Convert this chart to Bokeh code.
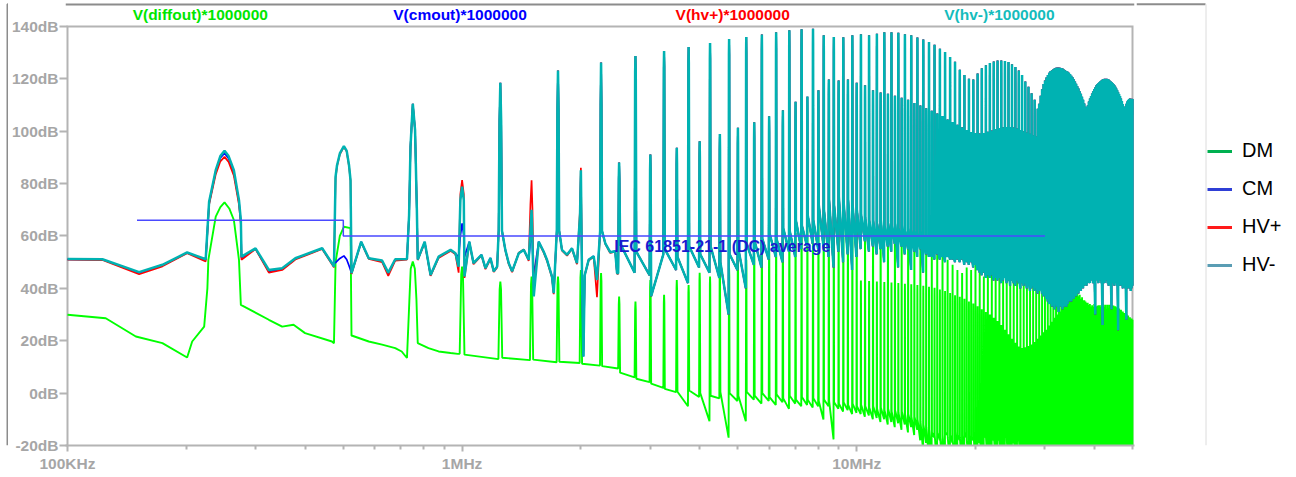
import numpy as np
from bokeh.plotting import figure
from bokeh.layouts import column, row
from bokeh.models import Label, Legend, LegendItem, FixedTicker, CustomJSTickFormatter, Range1d
from bokeh.embed import file_html
from bokeh.resources import INLINE

# ---------------- data (frequencies in MHz, levels in dB) ----------------
F_STEP = 0.25          # switching-harmonic spacing

HV_LOW_F = [0.1000, 0.1226, 0.1519, 0.1740, 0.2010, 0.2240, 0.2262, 0.2285, 0.2375, 0.2440,
            0.2500, 0.2560, 0.2640, 0.2720, 0.2750, 0.2760, 0.2996, 0.3238, 0.3500, 0.3780,
            0.4420, 0.4680, 0.4735, 0.4779, 0.4820, 0.4900, 0.5017, 0.5100, 0.5170, 0.5215,
            0.5245, 0.5550, 0.5800, 0.6270, 0.6500, 0.6770, 0.7250, 0.7340, 0.7400, 0.7500,
            0.7600, 0.7680, 0.7720, 0.8040, 0.8320, 0.8720, 0.9350, 0.9620, 0.9800, 0.9900,
            1.0000, 1.0100, 1.0140, 1.0430, 1.0690, 1.1200, 1.1460, 1.1800, 1.2030, 1.2270,
            1.2380, 1.2440, 1.2500, 1.2560, 1.2620, 1.2870, 1.3130, 1.3390, 1.3920, 1.4330,
            1.4750, 1.4900, 1.5000, 1.5080, 1.5190, 1.5640, 1.6100, 1.6410, 1.6900, 1.7070,
            1.7380, 1.7440, 1.7500, 1.7560, 1.7620, 1.7910, 1.8450, 1.8990, 1.9550, 1.9900,
            2.0000, 2.0080, 2.0150, 2.0300, 2.0450, 2.0930, 2.1550, 2.1970, 2.2380, 2.2440,
            2.2500, 2.2560, 2.2620, 2.3060, 2.3730, 2.4440, 2.4700]
HVM_LOW_DB = [51.2, 51.1, 46.2, 49.0, 53.7, 51.1, 62.0, 73.1, 85.1, 90.5,
              92.5, 90.5, 85.1, 73.7, 66.0, 52.1, 55.3, 47.0, 47.7, 51.5,
              55.3, 49.6, 48.3, 82.6, 87.0, 91.5, 94.3, 92.5, 87.0, 81.3,
              45.8, 57.8, 51.5, 50.6, 46.0, 51.1, 51.2, 68.0, 94.0, 110.5,
              100.4, 70.0, 51.0, 57.8, 45.1, 52.1, 54.7, 53.4, 48.3, 73.7,
              78.8, 73.7, 44.5, 57.8, 49.6, 52.8, 47.7, 51.6, 46.5, 48.3,
              62.0, 104.0, 118.5, 104.0, 62.0, 54.7, 49.6, 46.5, 53.4, 54.7,
              50.9, 62.0, 70.0, 58.0, 36.9, 57.8, 54.0, 50.9, 44.5, 38.2,
              62.0, 108.0, 123.2, 108.0, 62.0, 54.7, 52.8, 55.3, 49.6, 68.0,
              85.1, 60.0, 40.0, 14.0, 45.0, 50.9, 52.3, 43.2, 62.0, 110.0,
              126.2, 110.0, 62.0, 57.2, 53.8, 54.2, 45.8]
HVP_LOW_DB = [51.0, 50.8, 45.4, 48.4, 53.4, 50.3, 61.0, 72.0, 83.5, 88.5,
              90.2, 88.3, 83.0, 72.0, 64.5, 50.9, 55.0, 46.0, 47.0, 51.0,
              55.0, 49.2, 48.0, 82.0, 86.6, 91.2, 94.0, 92.2, 86.6, 81.0,
              45.5, 57.6, 51.2, 50.0, 44.8, 50.6, 51.0, 68.0, 94.0, 110.5,
              100.4, 70.0, 50.8, 57.4, 44.8, 51.6, 54.3, 53.0, 46.0, 76.0,
              81.3, 76.0, 44.0, 57.5, 49.2, 52.6, 47.3, 51.2, 46.2, 48.0,
              62.0, 104.0, 118.5, 104.0, 62.0, 54.4, 49.2, 46.2, 53.6, 54.9,
              50.5, 72.0, 81.3, 70.0, 40.0, 57.5, 53.6, 50.5, 44.0, 37.8,
              62.0, 108.0, 123.2, 108.0, 62.0, 54.4, 52.5, 55.0, 49.2, 70.0,
              86.0, 62.0, 42.0, 16.0, 45.0, 50.6, 52.0, 36.6, 62.0, 110.0,
              126.2, 110.0, 62.0, 57.0, 53.5, 54.0, 45.5]
CM_LOW_DB = [51.1, 51.0, 45.9, 48.8, 53.6, 50.8, 61.5, 72.6, 84.6, 89.8,
             91.6, 89.6, 84.2, 73.0, 65.4, 51.6, 55.1, 46.5, 47.3, 51.3,
             55.2, 49.6, 49.6, 49.8, 50.4, 51.4, 52.4, 51.0, 48.6, 47.0,
             45.8, 57.8, 51.5, 50.4, 45.6, 51.0, 51.2, 68.0, 94.0, 110.5,
             100.4, 70.0, 51.0, 57.7, 45.0, 52.0, 54.6, 53.3, 52.0, 60.0,
             64.8, 60.0, 52.0, 57.8, 49.6, 52.8, 47.7, 51.6, 46.5, 48.3,
             62.0, 104.0, 118.5, 104.0, 62.0, 54.7, 49.6, 46.5, 53.4, 54.7,
             50.9, 58.0, 66.0, 55.0, 45.0, 57.8, 54.0, 50.9, 44.5, 38.2,
             62.0, 108.0, 123.2, 108.0, 62.0, 54.7, 52.8, 55.3, 49.6, 66.0,
             84.0, 58.0, 40.0, 14.0, 45.0, 50.9, 52.3, 43.2, 62.0, 110.0,
             126.2, 110.0, 62.0, 57.2, 53.8, 54.2, 45.8]

HV_N0 = 10   # first harmonic (x 250 kHz) listed below, up to n = 200
HV_PEAK_DB = [88.0, 128.7, 91.1, 130.6, 93.7, 132.1, 96.2, 133.7, 98.9, 135.2,
              101.3, 136.0, 103.4, 136.9, 105.7, 137.8, 108.0, 138.5, 111.2, 138.9,
              113.2, 139.1, 115.6, 136.6, 119.7, 136.0, 119.4, 135.9, 119.7, 136.6,
              118.5,
              137.0, 117.5, 136.6, 115.6, 137.2, 114.8, 137.8, 114.3, 137.8, 113.5,
              137.6, 112.8, 137.0, 112.0, 136.6, 110.8, 135.8, 109.8, 135.0, 108.8,
              134.1, 107.8, 133.0, 106.8, 131.5, 105.8, 130.2, 104.5, 128.3, 103.5,
              126.5, 102.5, 123.5, 101.5, 121.5, 100.5, 120.0, 99.7, 119.7, 99.3,
              122.0, 99.1, 124.0, 99.3, 125.2, 99.8, 126.0, 100.3, 126.6, 100.8,
              127.0, 101.2, 127.0, 101.5, 126.8, 101.6, 126.4, 101.6, 125.6, 101.4,
              124.5, 101.0, 123.2, 100.5, 121.5, 100.0, 119.0, 99.5, 117.0, 99.0,
              114.5, 98.5, 112.0, 98.0, 108.6,
              110.5, 113.5, 116.0, 118.0, 119.4, 120.5, 121.5, 122.3, 123.0, 123.3,
              123.7, 124.0, 124.2, 124.3, 124.3, 124.2, 124.1, 123.9, 123.6, 123.3,
              123.0, 122.7, 122.3, 121.8, 121.2, 120.6, 119.8, 119.0, 118.1, 117.2,
              116.3, 115.3, 114.3, 113.2, 112.0, 110.6, 109.3, 108.6, 109.8, 111.3,
              112.5, 113.4, 114.4, 115.3, 116.1, 116.8, 117.5, 118.0, 118.4, 118.8,
              119.2, 119.5, 119.7, 119.9, 120.0, 120.0, 120.0, 119.9, 119.7, 119.4,
              119.1, 118.8, 118.4, 118.0, 117.5, 117.0, 116.3, 115.6, 114.9, 114.2,
              113.4, 112.5, 111.5, 110.4, 109.2, 108.6, 109.5, 110.5, 111.3, 111.9,
              112.3, 112.5, 112.4, 112.4, 112.3]
HV_FLOOR_A = [57.2, 54, 37, 55, 52, 56, 53, 56, 50, 53,
              55, 57, 58, 59, 61, 59, 63, 62, 66, 64,
              68, 66, 72, 70, 74, 72, 75, 73, 74, 72,
              70, 68, 67, 66, 66, 65, 66, 64, 65, 64,
              65, 63, 64, 62, 63, 62, 62, 61, 62, 60,
              60,
              58, 57, 58, 56, 57, 56, 57, 56, 57, 55, 56, 55, 56, 54, 55, 54, 55, 53, 54,
              52, 51, 52, 50, 51, 50, 51, 49, 50, 49, 50, 48, 49, 48, 49, 47, 48, 47, 48, 46,
              47, 46, 47, 45, 46, 45, 46, 45, 46, 44, 45, 44, 45, 44, 45, 43, 44, 43, 44, 42,
              42, 41, 42, 40, 41, 40, 41, 40, 41, 40, 41, 40, 41, 40, 41, 40, 42, 41, 42, 41,
              43, 42, 43, 42,
              44, 43, 44, 45, 44, 45, 46, 45, 46, 47, 46, 47,
              48, 47, 48, 49, 48, 49, 48, 49, 50, 49, 48, 49, 48, 47, 48, 49, 48, 47, 48, 49,
              48, 47, 48, 47, 46, 47, 48, 47, 46, 47, 46, 45, 46, 47, 46, 45, 46, 45, 44, 45,
              44, 45, 44, 45]
HV_FLOOR_B = [46, 45, 53, 47, 42, 48, 46, 44, 30, 47,
              40, 49, 48, 51, 52, 50, 54, 52, 55, 56,
              57, 55, 56, 52, 48, 54, 50, 53, 47, 52,
              55, 58, 54, 56, 53, 55, 50, 56, 54, 57,
              48, 56, 53, 55, 47, 54, 52, 55, 46, 53,
              52,
              52, 51, 53, 51, 52, 50, 52, 51, 51, 50, 51, 50, 51, 49, 50, 49, 50, 48, 49,
              47, 46, 45, 46, 44, 45, 44, 45, 43, 44, 43, 44, 42, 43, 44, 42, 43, 41, 43, 42,
              41, 43, 42, 40, 42, 41, 42, 40, 41, 39, 40, 41, 39, 40, 38, 39, 40, 38, 37, 38,
              36, 35, 34, 35, 33, 34, 32, 34, 33, 31, 33, 34, 32, 33, 35, 33, 34, 35, 36, 35,
              37, 36, 38, 37,
              39, 38, 40, 39, 41, 40, 41, 42, 41, 42, 43, 42,
              43, 44, 42, 43, 30, 44, 43, 42, 44, 43, 42, 26, 43, 42, 44, 43, 42, 41, 43, 42,
              32, 43, 42, 41, 42, 43, 41, 24, 42, 41, 42, 41, 40, 42, 41, 40, 28, 41, 40, 41,
              40, 39, 40, 41]

DM_LOW_F = [0.100, 0.125, 0.149, 0.174, 0.201, 0.207, 0.222, 0.2262, 0.2275, 0.2375,
            0.2440, 0.2500, 0.2570, 0.2640, 0.2720, 0.2750, 0.3238, 0.3500, 0.3740, 0.4000,
            0.4680, 0.4735, 0.4779, 0.4900, 0.5017, 0.5215, 0.5245, 0.5270, 0.5800, 0.6270,
            0.6770, 0.7030, 0.7250, 0.7350, 0.7410, 0.7500, 0.7590, 0.7660, 0.7720, 0.8220,
            0.8720, 0.9350, 0.9750]
DM_LOW_DB = [29.9, 28.6, 21.6, 19.1, 13.6, 19.7, 25.4, 40.0, 50.9, 67.4,
             71.0, 72.8, 70.5, 66.1, 50.9, 33.7, 28.0, 25.4, 26.1, 22.9,
             19.7, 19.0, 50.0, 60.0, 63.5, 63.0, 21.9, 21.9, 19.7, 18.5,
             17.2, 15.9, 13.4, 35.0, 47.5, 50.2, 47.5, 36.0, 19.1, 17.2,
             15.9, 15.3, 15.0]

DM_N0 = 4    # first harmonic listed below, up to n = 200
DM_PEAK_DB = [48.3, 42.6, 44.5, 44.5, 47.0, 45.8, 36.9, 35.0, 43.2, 37.5,
              43.2, 41.3, 45.9, 44.5, 49.7, 47.7, 50.9, 50.9, 53.5, 53.5,
              56.0, 54.7, 57.8, 61.1, 61.1, 62.3, 63.5, 66.0, 66.0, 68.8,
              69.4, 68.8, 68.0, 67.3, 67.3, 66.5, 66.0,
              43.0, 66.0, 42.8, 65.0, 42.6, 64.2, 42.4, 62.0, 42.2, 61.0,
              42.0, 59.5, 41.8, 58.5, 41.6, 57.0, 41.3, 56.0, 41.0, 54.5,
              40.6, 53.4, 40.2, 54.7, 39.6, 52.0, 39.0, 50.9, 38.2, 49.0,
              37.4, 47.0, 36.8, 45.9, 36.0, 48.0, 35.0, 47.0, 34.2, 49.6,
              33.2, 46.0, 32.0, 44.5, 31.0, 47.0, 30.0, 50.9, 28.8, 49.0,
              27.5, 48.3, 26.0, 50.9, 24.2, 47.0, 22.5, 45.0, 20.8, 46.0,
              19.2, 44.0, 17.8, 43.0, 17.2, 42.0, 17.5, 43.0, 18.0, 41.0,
              18.6, 42.0, 19.5, 40.6, 20.8, 40.0, 22.0, 42.0, 23.2, 40.0,
              24.2, 43.0, 25.8, 41.5, 27.2, 43.0, 28.8, 42.0, 30.0, 41.0,
              31.2, 42.0, 32.6, 41.0, 33.8, 40.5, 35.0, 40.0, 36.0, 39.0,
              36.8, 38.5, 37.6, 38.0, 38.2, 37.0, 37.6, 36.0, 36.6, 35.5,
              35.5, 35.0, 34.5, 34.5, 33.6, 34.0, 33.0, 33.5, 33.0, 34.0,
              33.2, 33.0, 33.4, 33.5, 33.5, 33.0, 33.6, 32.5, 33.7, 33.0,
              33.7, 32.0, 33.7, 32.5, 33.7, 32.0, 33.6, 31.5, 33.5, 32.0,
              33.2, 31.0, 32.8, 31.5, 32.3, 30.5, 31.8, 31.0, 31.2, 30.0,
              30.6, 30.0, 30.2, 29.5, 29.6, 29.0, 29.0, 28.5, 28.5, 28.0]
DM_FLOOR_A = [14.7, 13.5, 12.8, 12.0, 11.2, 10.3, 7.8, 5.5, 3.6, 1.6,
              0.5, 1.0, 0.0, -1.0, 0.5, 0.0, -1.0, 0.5, -1.0, 0.0,
              -1.5, -0.5, -2.0, -1.0, -2.5, -1.5, -2.5, -2.0, -3.0, -2.5,
              -3.0, -3.5, -4.0, -3.5, -4.5, -4.0, -5.0, -4.5, -5.0, -5.5,
              -5.0, -6.0, -5.5, -6.5, -6.0, -7.0, -6.5, -7.5, -7.0, -8.0,
              -8.0, -9.0, -9.0, -10.0, -11.0, -12.0, -13.0,
              -14, -15, -16, -15, -17, -16, -15, -17, -16, -18,
              -15, -16, -17, -16, -15, -18, -16, -17, -15, -16,
              -17, -16, -18, -15, -17, -16, -18, -17, -16, -15,
              -17, -18, -16, -17, -15, -18, -17, -16, -18, -17,
              -16, -18, -17, -19, -16, -18, -17, -19, -18, -16,
              -18, -17, -19, -18, -17, -19, -18, -20, -17, -19,
              -18, -20, -19, -18, -20, -19, -21, -18, -20, -19,
              -21, -23, -22, -24, -21, -22, -23, -21, -24, -22,
              -23, -21, -22, -24, -23, -21, -22, -23, -24, -22,
              -21, -23, -22, -24, -23, -22, -21, -23, -24, -22,
              -23, -22, -21, -24, -23, -22, -24, -21, -23, -22,
              -24, -23, -21, -22, -24, -23, -22, -21, -23, -24,
              -22, -23, -21, -24, -22, -23, -24, -22, -21, -23,
              -22, -24, -23, -21, -22, -24, -23, -22, -21]
DM_FLOOR_B = [13.0, 12.6, 11.8, 11.5, 10.5, 9.4, 6.0, 4.2, 2.0, 0.4,
              -5.0, -1.5, -10.7, -2.0, -17.0, -3.0, -10.7, -2.5, -4.0, -3.0,
              -4.5, -3.5, -6.0, -4.0, -5.0, -4.5, -5.5, -5.0, -10.1, -5.0,
              -17.7, -6.0, -7.0, -6.5, -8.0, -7.5, -8.0, -9.0, -8.5, -10.0,
              -9.5, -11.0, -10.0, -12.0, -11.0, -13.0, -11.5, -14.0, -12.0, -15.0,
              -13.0, -16.0, -14.0, -18.0, -22.0, -19.0, -25.0,
              -27, -17, -28, -18, -26, -29, -16, -27, -19, -28,
              -26, -18, -29, -27, -17, -28, -30, -18, -27, -26,
              -19, -28, -27, -17, -29, -26, -28, -18, -27, -30,
              -18, -27, -29, -26, -17, -28, -27, -30, -19, -26,
              -28, -18, -29, -27, -26, -30, -19, -28, -27, -26,
              -29, -19, -28, -30, -27, -26, -29, -28, -19, -27,
              -30, -28, -27, -29, -26, -30, -28, -27, -29, -30,
              -30, -28, -31, -29, -32, -30, -28, -31, -29, -30,
              -32, -28, -30, -31, -29, -28, -32, -30, -29, -31,
              -28, -30, -32, -29, -31, -30, -28, -29, -32, -30,
              -31, -29, -28, -30, -32, -31, -29, -30, -28, -31,
              -30, -32, -29, -28, -31, -30, -29, -32, -28, -30,
              -31, -29, -30, -28, -32, -31, -30, -29, -28, -30,
              -32, -29, -31, -30, -28, -29, -31, -30, -29]

LIMIT_F = [0.15, 0.5, 0.5, 30.0]
LIMIT_DB = [66, 66, 60, 60]
LIMIT_TEXT = "IEC 61851-21-1 (DC) average"

TRACE_TITLES = ["V(diffout)*1000000", "V(cmout)*1000000", "V(hv+)*1000000", "V(hv-)*1000000"]
TRACE_COLORS = ["#00ff00", "#0000ff", "#ff0000", "#00b2b2"]
TITLE_COLORS = ["#00e600", "#0000ff", "#ff0000", "#14bcbc"]
TITLE_F = [0.217, 0.988, 4.85, 23.0]

LEGEND_NAMES = ["DM", "CM", "HV+", "HV-"]
LEGEND_COLORS = ["#00b050", "#2f3fd6", "#ff1a1a", "#5a9db4"]

X_TICKS = [1e5, 1e6, 1e7]
X_TICK_LABELS = ["100KHz", "1MHz", "10MHz"]
X_MINOR = [k * d for d in (1e5, 1e6) for k in range(2, 10)] + [2e7, 3e7, 4e7, 5e7]
Y_TICKS = list(range(-20, 141, 20))
X_MIN_HZ, X_MAX_HZ = 1e5, 5e7
Y_MIN_DB, Y_MAX_DB = -20, 140

# layout geometry (pixels)
BOX_L, BOX_R, BOX_T, BOX_B = 65, 1132, 26, 446     # plot box in the window
PAD = 2                                           # frame margin around the box (left/right)
EDGE_W, BASE_H, TOTAL_W, BOTTOM_H = 8, 3, 1296, 28
PX_PER_DB = (BOX_B - BOX_T) / (Y_MAX_DB - Y_MIN_DB)
DEC = (X_MAX_HZ / X_MIN_HZ) ** (1.0 / (BOX_R - BOX_L))   # frequency ratio per pixel


def db_at(py):
    return Y_MAX_DB + (BOX_T - py) / PX_PER_DB


# ---------------- build traces ----------------
def build(low_f, low_db, n0, peaks, fa, fb, shoulder):
    xs, ys = list(low_f), list(low_db)
    w, w2 = 0.014, 0.005
    xs.append(n0 * F_STEP - w)
    ys.append(low_db[-1])
    for i, pk in enumerate(peaks):
        f = (n0 + i) * F_STEP
        xs += [f - w2, f, f + w2]
        ys += [pk - shoulder, pk, pk - shoulder]
        if i < len(fa) and i < len(fb):
            xs += [f + w, f + F_STEP - w]
            ys += [fa[i], fb[i]]
    return np.array(xs) * 1e6, np.array(ys)


dm_x, dm_y = build(DM_LOW_F, DM_LOW_DB, DM_N0, DM_PEAK_DB, DM_FLOOR_A, DM_FLOOR_B, 3)
hvm_x, hvm_y = build(HV_LOW_F, HVM_LOW_DB, HV_N0, HV_PEAK_DB, HV_FLOOR_A, HV_FLOOR_B, 6)
hvp_x, hvp_y = build(HV_LOW_F, HVP_LOW_DB, HV_N0, HV_PEAK_DB, HV_FLOOR_A, HV_FLOOR_B, 6)
cm_x, cm_y = build(HV_LOW_F, CM_LOW_DB, HV_N0, HV_PEAK_DB, HV_FLOOR_A, HV_FLOOR_B, 6)


def blank(width, height, xr, yr):
    f = figure(width=width, height=height, x_range=xr, y_range=yr,
               output_backend="svg", toolbar_location=None,
               x_axis_location=None, y_axis_location=None,
               min_border_left=0, min_border_right=0, min_border_top=0, min_border_bottom=0)
    f.xgrid.visible = False
    f.ygrid.visible = False
    f.outline_line_color = None
    f.background_fill_color = "white"
    f.border_fill_color = "white"
    return f


# ---------------- main figure (frame reaches the window top so titles fit) ----------------
FRAME_L = BOX_L - PAD
FRAME_W = (BOX_R + PAD) - FRAME_L
MAIN_W = (FRAME_L - EDGE_W) + FRAME_W + 2
MAIN_H = BOX_B + BOTTOM_H
x_lo, x_hi = X_MIN_HZ / DEC ** PAD, X_MAX_HZ * DEC ** PAD
p = figure(width=MAIN_W, height=MAIN_H, x_axis_type="log", x_range=(x_lo, x_hi),
           y_range=(Y_MIN_DB, db_at(0)), output_backend="svg", toolbar_location=None,
           min_border_left=FRAME_L - EDGE_W, min_border_right=2, min_border_top=0,
           min_border_bottom=BOTTOM_H)
p.xgrid.visible = False
p.ygrid.visible = False
p.background_fill_color = "white"
p.border_fill_color = "white"
p.outline_line_color = None

AX_GREY = "#b4b4b4"
for ax in (p.xaxis[0], p.yaxis[0]):
    ax.major_tick_line_color = AX_GREY
    ax.major_tick_line_width = 2
    ax.minor_tick_line_color = AX_GREY
    ax.minor_tick_line_width = 2
    ax.minor_tick_in = 0
    ax.major_label_text_font = "Liberation Sans"
    ax.major_label_text_font_style = "bold"
    ax.major_label_text_font_size = "15.5px"
    ax.major_label_text_color = "#a6a6a6"
    ax.major_label_text_line_height = 1.0

p.xaxis.axis_line_color = AX_GREY
p.xaxis.axis_line_width = 2
p.xaxis.ticker = FixedTicker(ticks=X_TICKS, minor_ticks=X_MINOR)
p.xaxis.formatter = CustomJSTickFormatter(
    args=dict(vals=X_TICKS, labs=X_TICK_LABELS),
    code="for (let i = 0; i < vals.length; i++) { if (Math.abs(tick - vals[i]) < 1e-3 * vals[i]) return labs[i]; } return '';")
p.xaxis.major_tick_in = 0
p.xaxis.major_tick_out = 6
p.xaxis.minor_tick_out = 4
p.xaxis.major_label_standoff = 3

p.yaxis.axis_line_color = None
p.yaxis.ticker = FixedTicker(ticks=Y_TICKS, minor_ticks=[])
p.yaxis.formatter = CustomJSTickFormatter(code="return Math.round(tick) + 'dB';")
p.yaxis.major_tick_in = PAD
p.yaxis.major_tick_out = 6
p.yaxis.minor_tick_out = 0
p.yaxis.major_label_standoff = 1

# plot box (left, top, right sides; the bottom is the x axis line)
p.line(x=[X_MIN_HZ, X_MIN_HZ, X_MAX_HZ, X_MAX_HZ], y=[Y_MIN_DB, Y_MAX_DB, Y_MAX_DB, Y_MIN_DB],
       line_color=AX_GREY, line_width=2, line_join="miter")

# traces (drawn in LTspice order, last on top)
p.line(dm_x, dm_y, line_color=TRACE_COLORS[0], line_width=1.9)
p.line(cm_x, cm_y, line_color=TRACE_COLORS[1], line_width=1.7)
p.line(hvp_x, hvp_y, line_color=TRACE_COLORS[2], line_width=1.7)
p.line(hvm_x, hvm_y, line_color=TRACE_COLORS[3], line_width=2.5)

p.line(np.array(LIMIT_F) * 1e6, LIMIT_DB, line_color="#4a4aff", line_width=1.5)
p.add_layout(Label(x=2.43e6, y=59.2, text=LIMIT_TEXT, text_baseline="top", text_align="left",
                   text_font="Liberation Sans", text_font_style="bold", text_font_size="16px",
                   text_color="#1a1ad0"))

# trace titles and the window's top border above the plot box
p.text(x=np.array(TITLE_F) * 1e6, y=[db_at(14)] * 4, text=TRACE_TITLES, text_color=TITLE_COLORS,
       text_align="center", text_baseline="middle", text_font_size="15.5px",
       text_font_style="bold", text_font={"value": "Liberation Sans"})
p.line(x=[x_lo, x_hi], y=[db_at(4)] * 2, line_color="#8c8c8c", line_width=2)

# ---------------- left window-border strip ----------------
edge = blank(EDGE_W, MAIN_H, Range1d(0, EDGE_W), Range1d(0, MAIN_H))
edge.line(x=[7, 7, EDGE_W], y=[0, MAIN_H - 4, MAIN_H - 4], line_color="#8c8c8c", line_width=2)

# ---------------- legend panel on the right ----------------
LG_X0 = EDGE_W + MAIN_W
LG_W = TOTAL_W - LG_X0
lg = blank(LG_W, MAIN_H, Range1d(0, LG_W), Range1d(0, MAIN_H))
lg.line(x=[0, 1205 - LG_X0], y=[MAIN_H - 4] * 2, line_color="#8c8c8c", line_width=2)
lg.line(x=[1205.5 - LG_X0] * 2, y=[0, MAIN_H - 4], line_color="#dcdcdc", line_width=1)
items = []
for name, col in zip(LEGEND_NAMES, LEGEND_COLORS):
    r = lg.line(x=[np.nan], y=[np.nan], line_color=col, line_width=3)
    items.append(LegendItem(label=name, renderers=[r]))
legend = Legend(items=items, location=(1207 - LG_X0, 169), orientation="vertical",
                glyph_width=25, glyph_height=20, label_height=20, spacing=15,
                label_standoff=10, padding=0, margin=0,
                label_text_font="Liberation Sans", label_text_font_size="20px",
                label_text_color="black", background_fill_alpha=0, border_line_alpha=0)
lg.add_layout(legend)

# ---------------- bottom window-border strip ----------------
b = blank(TOTAL_W, BASE_H, Range1d(0, TOTAL_W), Range1d(0, BASE_H))
b.line(x=[6, 1206], y=[BASE_H - 1.5] * 2, line_color="#dcdcdc", line_width=1)
b.line(x=[7, 7], y=[BASE_H - 1, BASE_H], line_color="#8c8c8c", line_width=2)

layout = column(row(edge, p, lg, spacing=0), b, spacing=0)
open("out.html", "w").write(file_html(layout, INLINE))
